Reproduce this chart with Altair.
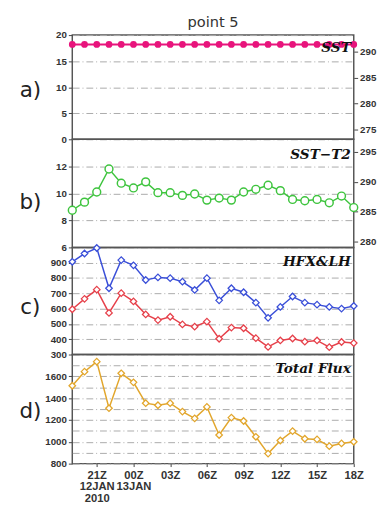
import altair as alt
import pandas as pd

times = [
    "2010-01-12T19:00:00Z", "2010-01-12T20:00:00Z", "2010-01-12T21:00:00Z", "2010-01-12T22:00:00Z",
    "2010-01-12T23:00:00Z", "2010-01-13T00:00:00Z", "2010-01-13T01:00:00Z", "2010-01-13T02:00:00Z",
    "2010-01-13T03:00:00Z", "2010-01-13T04:00:00Z", "2010-01-13T05:00:00Z", "2010-01-13T06:00:00Z",
    "2010-01-13T07:00:00Z", "2010-01-13T08:00:00Z", "2010-01-13T09:00:00Z", "2010-01-13T10:00:00Z",
    "2010-01-13T11:00:00Z", "2010-01-13T12:00:00Z", "2010-01-13T13:00:00Z", "2010-01-13T14:00:00Z",
    "2010-01-13T15:00:00Z", "2010-01-13T16:00:00Z", "2010-01-13T17:00:00Z", "2010-01-13T18:00:00Z",
]
sst = [18.2, 18.2, 18.2, 18.2, 18.2, 18.2, 18.2, 18.2, 18.2, 18.2, 18.2, 18.2,
       18.2, 18.2, 18.2, 18.2, 18.2, 18.2, 18.2, 18.2, 18.2, 18.2, 18.2, 18.2]
sst_t2 = [8.75, 9.35, 10.1, 11.8, 10.75, 10.4, 10.85, 10.05, 10.05, 9.85, 9.95, 9.5,
          9.65, 9.5, 10.1, 10.3, 10.6, 10.2, 9.55, 9.45, 9.55, 9.3, 9.8, 8.95]
flux_blue = [906, 960, 996, 733, 917, 883, 787, 804, 799, 776, 722, 799,
             654, 733, 707, 639, 540, 611, 679, 639, 626, 611, 600, 617]
flux_red = [596, 664, 724, 572, 701, 647, 562, 525, 547, 497, 482, 515,
            403, 476, 472, 407, 350, 392, 405, 384, 392, 348, 382, 375]
total_flux = [1514, 1643, 1735, 1308, 1628, 1545, 1354, 1335, 1354, 1277, 1215, 1320,
              1062, 1222, 1191, 1046, 892, 1012, 1098, 1028, 1022, 960, 985, 1000]

panel_tags = ["a)", "b)", "c)", "d)"]
panel_names = ["SST", "SST\u2212T2", "HFX&LH", "Total Flux"]
a_ticks = [0, 5, 10, 15, 20]
a_right_ticks = [275, 280, 285, 290]
b_ticks = [6, 8, 10, 12]
b_right_ticks = [280, 285, 290, 295]
c_ticks = [300, 400, 500, 600, 700, 800, 900]
d_grid = [800, 900, 1000, 1100, 1200, 1300, 1400, 1500, 1600, 1700]

MAG = "#e8147c"
GREEN = "#3ec43e"
BLUE = "#3a4fd8"
RED = "#e6404a"
GOLD = "#e2a62c"

W = 289
HA, HB, HC, HD = 107, 111, 110, 112

df = pd.DataFrame({
    "time": times, "sst": sst, "sst_t2": sst_t2,
    "flux_blue": flux_blue, "flux_red": flux_red, "total": total_flux,
})

xnone = alt.X("time:T", scale=alt.Scale(type="utc", nice=False), axis=None)
base = alt.Chart(df).encode(x=xnone)

grid_kw = dict(grid=True, gridColor="#aaaaaa", gridDash=[7, 3, 1, 3], gridWidth=1)


def name_label(i, y):
    return alt.Chart(pd.DataFrame({"t": [panel_names[i]]})).mark_text(
        align="right", baseline="middle", font="DejaVu Serif", fontStyle="italic",
        fontWeight="bold", fontSize=14, color="#111"
    ).encode(text="t:N", x=alt.value(W - 3), y=alt.value(y))


def tag_label(i, y):
    return alt.Chart(pd.DataFrame({"t": [panel_tags[i]]})).mark_text(
        align="center", baseline="middle", font="DejaVu Sans", fontSize=22, color="#222"
    ).encode(text="t:N", x=alt.value(-43), y=alt.value(y))


# Panel a
a_line = base.mark_line(color=MAG, strokeWidth=2,
                        point=alt.OverlayMarkDef(filled=True, size=48, color=MAG)).encode(
    y=alt.Y("sst:Q", scale=alt.Scale(domain=[0, 20], nice=False),
            axis=alt.Axis(values=a_ticks, title=None, **grid_kw)))
a_right = base.transform_calculate(sstK="datum.sst + 273.15").mark_line(opacity=0).encode(
    y=alt.Y("sstK:Q", scale=alt.Scale(domain=[273.15, 293.15], nice=False, zero=False),
            axis=alt.Axis(orient="right", values=a_right_ticks, title=None, grid=False)))
panel_a = alt.layer(a_line, a_right, name_label(0, 13), tag_label(0, 57)).resolve_scale(
    y="independent").properties(
    width=W, height=HA,
    title=alt.TitleParams("point 5", fontSize=15, font="DejaVu Sans", fontWeight="normal",
                          color="#333", anchor="middle", offset=0))

# Panel b
b_line = base.mark_line(color=GREEN, strokeWidth=1.5,
                        point=alt.OverlayMarkDef(filled=False, fill="white", size=65,
                                                 strokeWidth=1.5, color=GREEN)).encode(
    y=alt.Y("sst_t2:Q", scale=alt.Scale(domain=[6, 14], nice=False, zero=False),
            axis=alt.Axis(values=b_ticks, title=None, **grid_kw)))
b_right = base.transform_calculate(sstK="datum.sst + 273.15").mark_line(opacity=0).encode(
    y=alt.Y("sstK:Q", scale=alt.Scale(domain=[279.05, 297.1], nice=False, zero=False),
            axis=alt.Axis(orient="right", values=b_right_ticks, title=None, grid=False)))
panel_b = alt.layer(b_line, b_right, name_label(1, 16), tag_label(1, 65)).resolve_scale(
    y="independent").properties(width=W, height=HB)

# Panel c
c_lines = base.transform_fold(["flux_blue", "flux_red"], as_=["series", "value"]).mark_line(
    strokeWidth=1.5,
    point=alt.OverlayMarkDef(filled=False, fill="white", shape="diamond", size=45, strokeWidth=1.3)
).encode(
    y=alt.Y("value:Q", scale=alt.Scale(domain=[300, 1000], nice=False, zero=False),
            axis=alt.Axis(values=c_ticks, title=None, **grid_kw)),
    color=alt.Color("series:N", scale=alt.Scale(domain=["flux_blue", "flux_red"], range=[BLUE, RED]),
                    legend=None),
)
panel_c = alt.layer(c_lines, name_label(2, 15), tag_label(2, 61)).properties(width=W, height=HC)

# Panel d
xaxis = alt.Axis(
    values=[alt.DateTime(year=2010, month=1, date=12, hours=h, utc=True) for h in [21]] +
           [alt.DateTime(year=2010, month=1, date=13, hours=h, utc=True) for h in [0, 3, 6, 9, 12, 15, 18]],
    labelExpr="utchours(datum.value) == 21 ? [utcFormat(datum.value, '%HZ'), upper(utcFormat(datum.value, '%d%b')), utcFormat(datum.value, '%Y')] : (utchours(datum.value) == 0 ? [utcFormat(datum.value, '%HZ'), upper(utcFormat(datum.value, '%d%b'))] : utcFormat(datum.value, '%HZ'))",
    title=None, grid=False, tickSize=3, labelFontSize=11.5, labelPadding=3, labelLineHeight=12,
    labelFlush=False, labelColor="#333", labelFont="Liberation Sans", labelFontWeight="bold",
    labelOverlap=False,
)
d_line = alt.Chart(df).mark_line(color=GOLD, strokeWidth=1.5,
                                 point=alt.OverlayMarkDef(filled=False, fill="white", shape="diamond",
                                                          size=45, strokeWidth=1.3, color=GOLD)).encode(
    x=alt.X("time:T", scale=alt.Scale(type="utc", nice=False), axis=xaxis),
    y=alt.Y("total:Q", scale=alt.Scale(domain=[800, 1800], nice=False, zero=False),
            axis=alt.Axis(values=d_grid, title=None, format="d",
                          labelExpr="datum.value % 200 == 0 ? datum.label : ''",
                          tickOpacity={"condition": {"test": "datum.value % 200 == 0", "value": 1}, "value": 0},
                          **grid_kw)))
panel_d = alt.layer(d_line, name_label(3, 15), tag_label(3, 58)).properties(width=W, height=HD)

chart = alt.vconcat(panel_a, panel_b, panel_c, panel_d, spacing=0, bounds="flush").configure_view(
    stroke="#555", strokeWidth=1.5
).configure_axis(
    labelFont="Liberation Sans", labelFontWeight="bold", labelFontSize=10, labelColor="#333",
    tickColor="#444", tickSize=4, domain=False, labelPadding=2,
).properties(padding={"left": 10, "top": 0, "right": 5, "bottom": 5})

chart.save("out.html", embed_options={"renderer": "svg", "actions": False})
